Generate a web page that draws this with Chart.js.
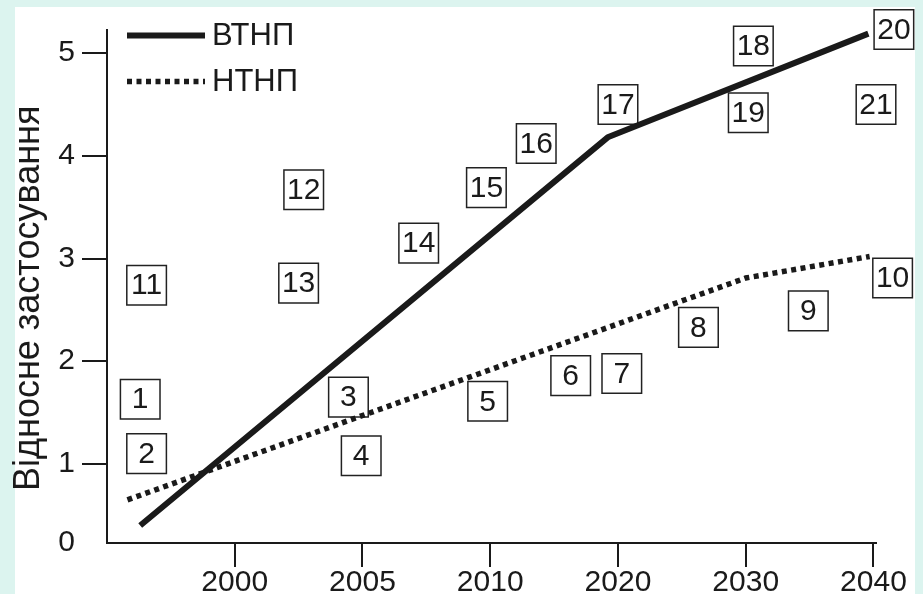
<!DOCTYPE html>
<html>
<head>
<meta charset="utf-8">
<script src="https://cdn.jsdelivr.net/npm/chart.js@4.4.1/dist/chart.umd.min.js"></script>
<style>
  html, body { margin: 0; padding: 0; background: #dcf4ef; overflow: hidden; }
  #panel { position: absolute; left: 15px; top: 7px; width: 900px; height: 587px; background: #fff; }
  #chart { position: absolute; left: 0; top: 0; }
</style>
</head>
<body>
<div id="panel"></div>
<canvas id="chart" width="923" height="594"></canvas>
<script>
// x positions are in category units: 0 = 2000, 1 = 2005 ... 5 = 2040
const years = ["2000", "2005", "2010", "2020", "2030", "2040"];
const yTickValues = [0.23, 1, 2, 3, 4, 5];
const yTickLabels = ["0", "1", "2", "3", "4", "5"];

const seriesNames = ["ВТНП", "НТНП"];
const vtnpX = [-0.74, 2.92, 4.96];
const vtnpY = [0.40, 4.18, 5.19];
const ntnpX = [-0.84, 4.0, 4.97];
const ntnpY = [0.65, 2.81, 3.02];

const boxLabels = ["1", "2", "3", "4", "5", "6", "7", "8", "9", "10", "11",
  "12", "13", "14", "15", "16", "17", "18", "19", "20", "21"];
const boxX = [-0.74, -0.69, 0.89, 0.99, 1.98, 2.63, 3.03, 3.63, 4.49, 5.15, -0.69,
  0.54, 0.50, 1.44, 1.97, 2.36, 3.0, 4.06, 4.02, 5.16, 5.02];
const boxY = [1.63, 1.10, 1.65, 1.08, 1.61, 1.86, 1.88, 2.33, 2.49, 2.81, 2.74,
  3.67, 2.76, 3.15, 3.69, 4.12, 4.50, 5.07, 4.42, 5.23, 4.50];

const ink = "#1a1a1a";
const fontFamily = '"Liberation Sans", Arial, sans-serif';
Chart.defaults.font.family = fontFamily;
Chart.defaults.color = ink;

function toPoints(xs, ys) {
  return xs.map((x, i) => ({ x: x, y: ys[i] }));
}

// numbers inside the boxes
const boxText = {
  id: "boxText",
  afterDatasetsDraw(chart) {
    const ctx = chart.ctx;
    const meta = chart.getDatasetMeta(2);
    ctx.save();
    ctx.font = "30px " + fontFamily;
    ctx.fillStyle = ink;
    ctx.textAlign = "center";
    ctx.textBaseline = "middle";
    meta.data.forEach((pt, i) => ctx.fillText(boxLabels[i], pt.x, pt.y + 1));
    ctx.restore();
  },
};

// legend drawn inside the plot, top left
const lineLegend = {
  id: "lineLegend",
  afterDraw(chart) {
    const { ctx, chartArea } = chart;
    ctx.save();
    [0, 1].forEach((i) => {
      const ds = chart.data.datasets[i];
      const y = chartArea.top + 6 + i * 46;
      const x0 = chartArea.left + 20;
      ctx.beginPath();
      ctx.lineWidth = ds.borderWidth;
      ctx.strokeStyle = ds.borderColor;
      ctx.setLineDash(ds.borderDash || []);
      ctx.moveTo(x0, y);
      ctx.lineTo(x0 + 78, y);
      ctx.stroke();
      ctx.setLineDash([]);
      ctx.font = "31px " + fontFamily;
      ctx.fillStyle = ink;
      ctx.textBaseline = "middle";
      ctx.fillText(ds.label, x0 + 85, y + 1);
    });
    ctx.restore();
  },
};

// rotated y axis title
const yTitle = {
  id: "yTitle",
  afterDraw(chart, args, opts) {
    const { ctx, chartArea } = chart;
    ctx.save();
    ctx.translate(chartArea.left - 78, (chartArea.top + chartArea.bottom) / 2 + 12);
    ctx.rotate(-Math.PI / 2);
    ctx.font = "36px " + fontFamily;
    ctx.fillStyle = ink;
    ctx.textAlign = "center";
    ctx.textBaseline = "middle";
    ctx.fillText(opts.text, 0, 0);
    ctx.restore();
  },
};

new Chart(document.getElementById("chart"), {
  type: "scatter",
  data: {
    datasets: [
      {
        label: seriesNames[0],
        data: toPoints(vtnpX, vtnpY),
        showLine: true,
        borderColor: ink,
        borderWidth: 6,
        borderJoinStyle: "round",
        pointRadius: 0,
        clip: false,
      },
      {
        label: seriesNames[1],
        data: toPoints(ntnpX, ntnpY),
        showLine: true,
        borderColor: ink,
        borderWidth: 5.5,
        borderDash: [5, 4.5],
        pointRadius: 0,
        clip: false,
      },
      {
        label: "boxes",
        data: toPoints(boxX, boxY),
        pointStyle: "rect",
        pointRadius: 28,
        pointHoverRadius: 28,
        borderColor: "#222",
        borderWidth: 1.5,
        backgroundColor: "rgba(0,0,0,0)",
        clip: false,
      },
    ],
  },
  options: {
    responsive: false,
    animation: false,
    events: [],
    layout: { padding: { left: 0, top: 28, right: 47, bottom: 0 } },
    plugins: {
      legend: { display: false },
      tooltip: { enabled: false },
      yTitle: { text: "Відносне застосування" },
    },
    scales: {
      x: {
        type: "linear",
        min: -1,
        max: 5.02,
        afterBuildTicks: (scale) => {
          scale.ticks = years.map((y, i) => ({ value: i }));
        },
        afterFit: (scale) => {
          scale.height = 51;
        },
        grid: { drawOnChartArea: false, tickLength: 24, color: ink, lineWidth: 2 },
        border: { color: ink, width: 2 },
        ticks: {
          autoSkip: false,
          maxRotation: 0,
          padding: 1,
          font: { size: 30, lineHeight: 1 },
          color: ink,
          callback: (v) => years[v],
        },
      },
      y: {
        type: "linear",
        min: 0.23,
        max: 5.23,
        afterBuildTicks: (scale) => {
          scale.ticks = yTickValues.map((v) => ({ value: v }));
        },
        afterFit: (scale) => {
          scale.width = 107;
        },
        grid: {
          drawOnChartArea: false,
          tickLength: 25,
          lineWidth: 2,
          color: (c) => (c.tick && c.tick.value < 0.5 ? "rgba(0,0,0,0)" : ink),
        },
        border: { color: ink, width: 2 },
        ticks: {
          autoSkip: false,
          padding: 7,
          font: { size: 30 },
          color: ink,
          callback: (v) => yTickLabels[yTickValues.indexOf(v)],
        },
      },
    },
  },
  plugins: [boxText, lineLegend, yTitle],
});
</script>
</body>
</html>
